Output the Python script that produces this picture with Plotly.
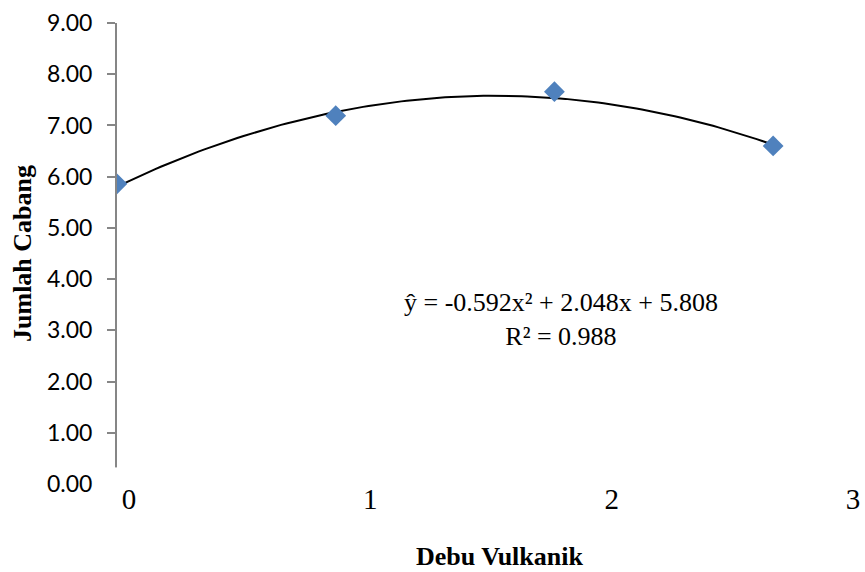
import plotly.graph_objects as go

# Data
debu_vulkanik = [0, 1, 2, 3]
jumlah_cabang = [5.86, 7.19, 7.66, 6.60]
trend_coef = [-0.592, 2.048, 5.808]  # a, b, c of y = a x^2 + b x + c
x_tick_labels = ["0", "1", "2", "3"]
y_ticks = [0, 1, 2, 3, 4, 5, 6, 7, 8, 9]
equation_text = "ŷ = -0.592x² + 2.048x + 5.808<br>R² = 0.988"

# Trendline from the displayed regression equation
n = 121
tx = [debu_vulkanik[0] + (debu_vulkanik[-1] - debu_vulkanik[0]) * i / (n - 1) for i in range(n)]
ty = [trend_coef[0] * v * v + trend_coef[1] * v + trend_coef[2] for v in tx]

fig = go.Figure()
fig.add_trace(go.Scatter(x=tx, y=ty, mode="lines",
                         line=dict(color="black", width=2), hoverinfo="skip",
                         showlegend=False))
fig.add_trace(go.Scatter(x=debu_vulkanik, y=jumlah_cabang, mode="markers",
                         marker=dict(symbol="diamond", size=16, color="#4F81BD"),
                         showlegend=False))
# invisible trace for overlay axis of labels
fig.add_trace(go.Scatter(x=[0, 3], y=[None, None], xaxis="x2", yaxis="y",
                         mode="markers", showlegend=False, hoverinfo="skip"))

fig.update_layout(
    width=865, height=572,
    margin=dict(l=117, r=0, t=23, b=88),
    paper_bgcolor="white", plot_bgcolor="white",
    xaxis=dict(range=[0, 3.42], showgrid=False, zeroline=False, showline=False,
               showticklabels=False, ticks=""),
    xaxis2=dict(overlaying="x", anchor="free", position=0.011, side="bottom",
                range=[-0.05, 3.05], ticklabeloverflow="allow",
                tickvals=debu_vulkanik, ticktext=x_tick_labels, showgrid=False,
                zeroline=False, showline=False, ticks="",
                tickfont=dict(family="Liberation Serif", size=29, color="black")),
    yaxis=dict(range=[0, 9], tickvals=y_ticks, tickformat=".2f", showgrid=False,
               zeroline=False, showline=True, linecolor="#868686", linewidth=2,
               ticks="outside", ticklen=8, tickcolor="#868686", tickwidth=1.5,
               ticklabelstandoff=10,
               tickfont=dict(family="Lato", size=23, color="black"),
               title=dict(text="<b>Jumlah Cabang</b>",
                          font=dict(family="Liberation Serif", size=26, color="black"),
                          standoff=8)),
    shapes=[dict(type="rect", xref="paper", yref="paper", x0=-0.02, x1=0.01,
                 y0=-0.02, y1=0.036, fillcolor="white", line=dict(width=0),
                 layer="above")],
    annotations=[
        dict(text=equation_text, x=0.593, y=0.357, xref="paper", yref="paper",
             showarrow=False, align="center",
             font=dict(family="Liberation Serif", size=26, color="black")),
        dict(text="<b>Debu Vulkanik</b>", x=0.512, y=-0.158, xref="paper", yref="paper",
             xanchor="center", yanchor="middle", showarrow=False,
             font=dict(family="Liberation Serif", size=26, color="black")),
    ],
)

fig.write_html("out.html", config={"displayModeBar": False},
               post_script="document.body.style.margin='0';")
